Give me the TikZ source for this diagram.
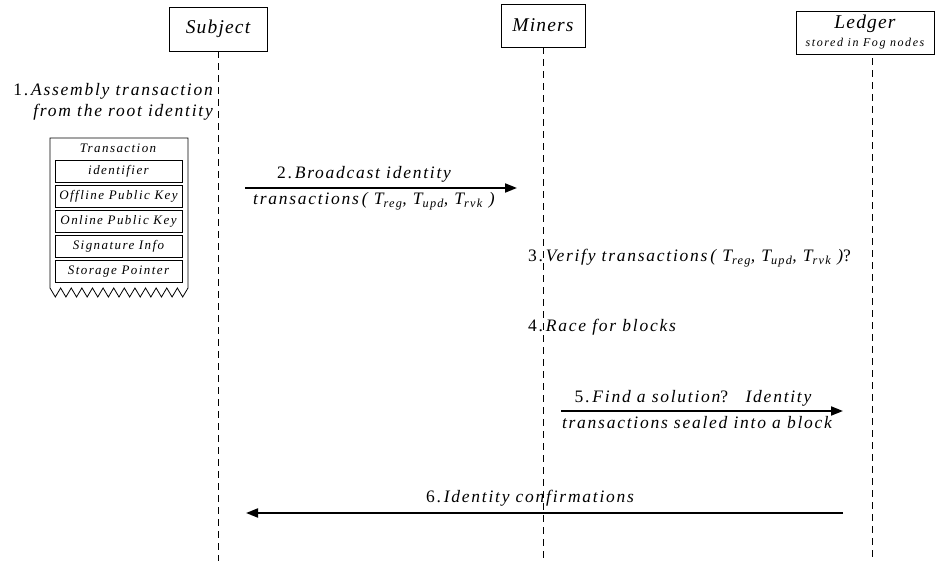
\documentclass[tikz,border=0pt]{standalone}
\usepackage{fontspec}
\setmainfont{Liberation Serif}
\newfontfamily\spacedserif[LetterSpace=10]{Liberation Serif}
\newfontfamily\widerserif[LetterSpace=11]{Liberation Serif}
\newfontfamily\smallserif[LetterSpace=13]{Liberation Serif}
\newfontfamily\headserif[LetterSpace=6]{Liberation Serif}
\usetikzlibrary{arrows.meta}
\newcommand\lblfont{\spacedserif\itshape\fontsize{17.5}{20}\selectfont}
\newcommand\Tsub[1]{\textit{T}\textsubscript{\itshape #1}}
\begin{document}
\begin{tikzpicture}[x=1pt,y=-1pt,
  actor/.style={draw, line width=0.8pt, inner sep=0pt, align=center,
    font=\headserif\itshape\fontsize{19.5}{21}\selectfont},
  lifeline/.style={line width=0.8pt, dash pattern=on 7pt off 5pt},
  msg/.style={line width=1.8pt, -{Triangle[length=12pt,width=9pt]}},
  lbl/.style={font=\lblfont, inner sep=0pt},
  field/.style={draw, line width=0.9pt, minimum width=127pt, minimum height=22pt,
    inner sep=0pt, font=\widerserif\itshape\fontsize{13}{15}\selectfont}]

\useasboundingbox (0,0) rectangle (937,561);

% participants
\node[actor, minimum width=98pt, minimum height=44pt] (subject) at (218,29) {Subject};
\node[actor, minimum width=84pt, minimum height=43pt] (miners) at (543,25.5) {Miners};
\node[actor, minimum width=138pt, minimum height=43pt] (ledger) at (865,32.5)
  {Ledger\\[-3pt]{\smallserif\fontsize{12}{13}\selectfont stored in Fog nodes}};

% lifelines
\coordinate (subjectEnd) at (218,561);
\coordinate (minersEnd) at (543,561);
\coordinate (ledgerEnd) at (872,561);
\draw[lifeline] (subject.south) -- (subjectEnd);
\draw[lifeline] (miners.south) -- (minersEnd);
\draw[lifeline] ([yshift=-4pt]ledger.south -| ledgerEnd) -- (ledgerEnd);

% step 1: transaction assembled by the subject
\node[lbl, anchor=base east] (s1a) at (213,96) {{\upshape 1.}\,Assembly transaction};
\node[lbl, anchor=base east] (s1b) at (213,117) {from the root identity};

\draw[line width=0.8pt] (50,138) -- (188,138) -- (188,288)
  \foreach \i in {1,...,13} { -- ({188-(\i-0.5)*10.615},297) -- ({188-\i*10.615},288) }
  -- cycle;
\node[inner sep=0pt, font=\widerserif\itshape\fontsize{13}{15}\selectfont] (txtitle) at (118,148) {Transaction};
\node[field] (fid) at (118.5,171) {identifier};
\node[field] (foff) at (118.5,196) {Offline Public Key};
\node[field] (fon) at (118.5,221.5) {Online Public Key};
\node[field] (fsig) at (118.5,246) {Signature Info};
\node[field] (fsto) at (118.5,271.5) {Storage Pointer};

% step 2: broadcast
\coordinate (m2s) at (245,188);
\coordinate (m2e) at (517,188);
\draw[msg] (m2s) -- (m2e);
\node[lbl, anchor=base] (s2a) at (364,179) {{\upshape 2.}\,Broadcast identity};
\node[lbl, anchor=base] (s2b) at (374,205) {transactions\,( \Tsub{reg}, \Tsub{upd}, \Tsub{rvk} )};

% steps 3 and 4: miners
\node[lbl, anchor=base west] (s3) at (528,262) {{\upshape 3.}\,Verify transactions\,( \Tsub{reg}, \Tsub{upd}, \Tsub{rvk} ){\upshape ?}};
\node[lbl, anchor=base west] (s4) at (528,331) {{\upshape 4.}\,Race for blocks};

% step 5: block sealed into the ledger
\coordinate (m5s) at (561,411);
\coordinate (m5e) at (843,411);
\draw[msg] (m5s) -- (m5e);
\node[lbl, anchor=base] (s5a) at (693,402) {{\upshape 5.}\,Find a solution{\upshape ?}\quad Identity};
\node[lbl, anchor=base] (s5b) at (697,428) {transactions sealed into a block};

% step 6: confirmations back to the subject
\coordinate (m6s) at (843,513);
\coordinate (m6e) at (246,513);
\draw[msg] (m6s) -- (m6e);
\node[lbl, anchor=base] (s6) at (530,502) {{\upshape 6.}\,Identity confirmations};

\end{tikzpicture}
\end{document}
